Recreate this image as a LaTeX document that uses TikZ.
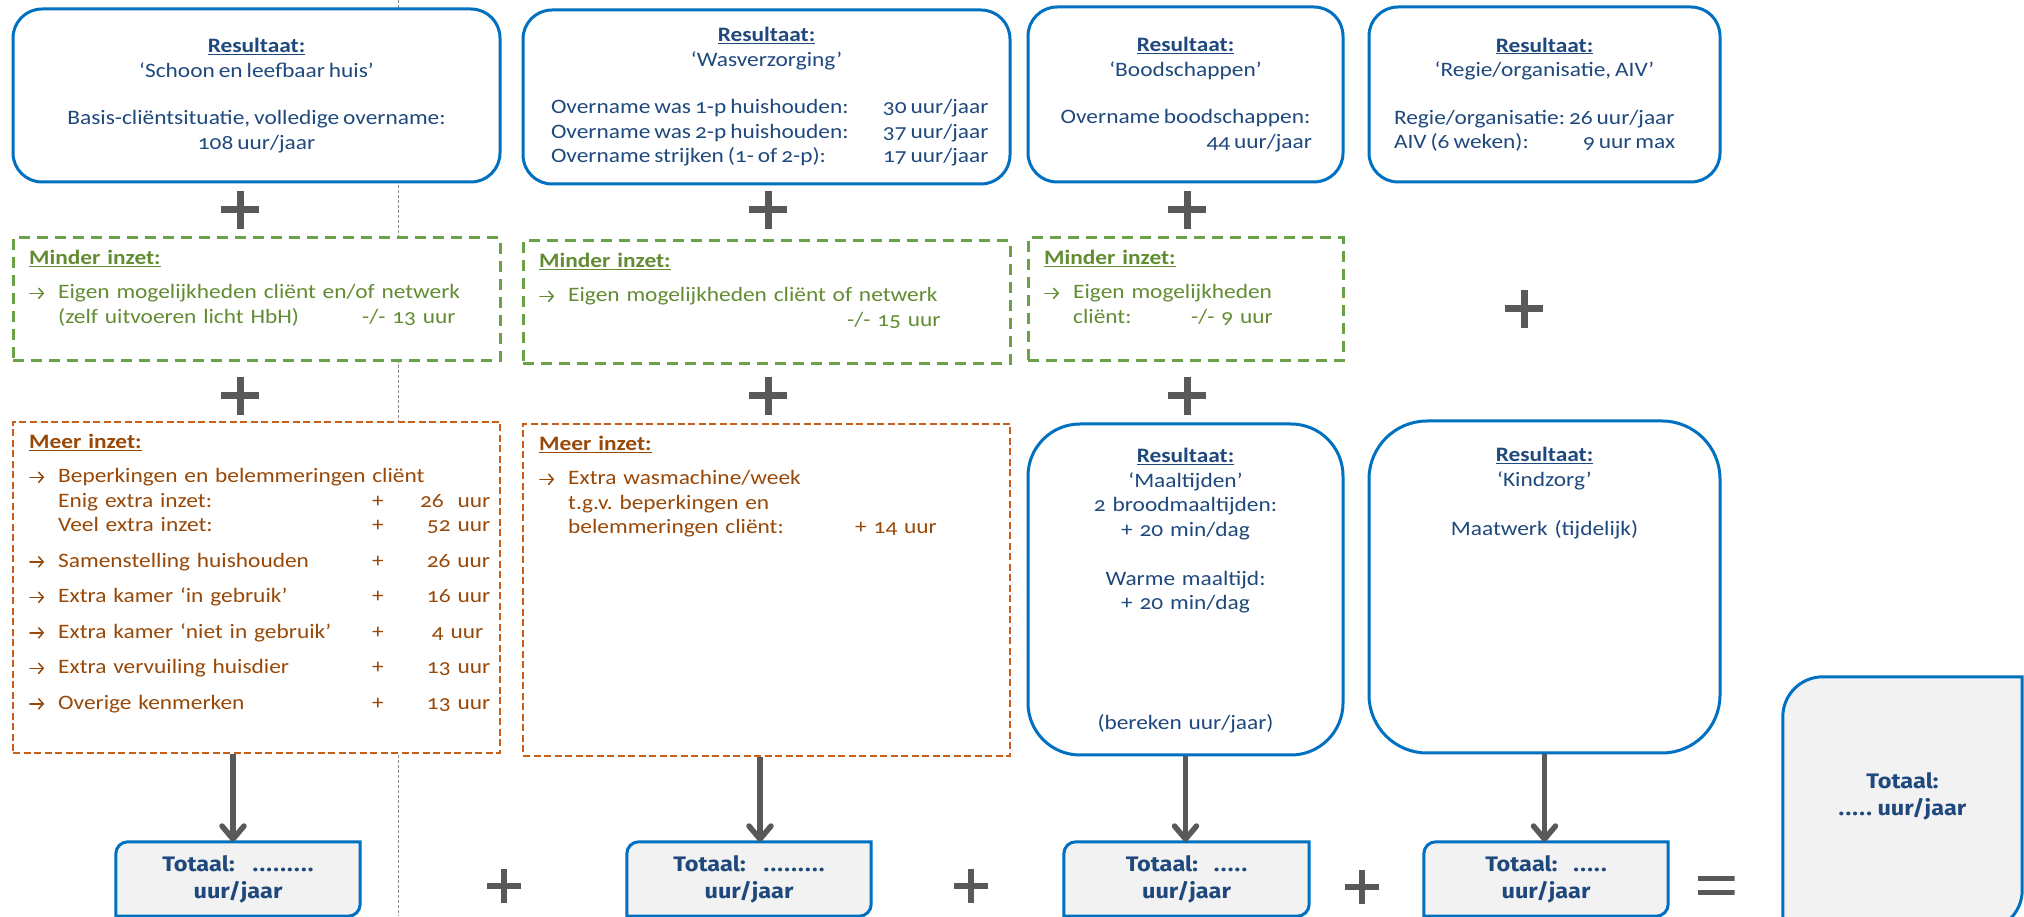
\documentclass[tikz,border=0pt]{standalone}
\usepackage{fontspec}
\setmainfont{Carlito}[Numbers=OldStyle, FakeStretch=1.14, WordSpace=0.75]
\newfontfamily\totfont{Fira Sans}[FakeStretch=1.12]
\usetikzlibrary{arrows.meta,backgrounds}
\definecolor{rblue}{RGB}{0,112,192}
\definecolor{navy}{RGB}{31,73,125}
\definecolor{mgreen}{RGB}{106,160,70}
\definecolor{mgreentxt}{RGB}{98,140,50}
\definecolor{morange}{RGB}{200,95,25}
\definecolor{morangetxt}{RGB}{152,72,7}
\definecolor{pgray}{RGB}{89,89,89}
\definecolor{totfill}{RGB}{242,242,242}
\definecolor{sepgray}{RGB}{140,140,140}
\frenchspacing
\newcommand\btxt{\fontsize{20.5}{24.5}\selectfont}
\newcommand\arwg{\tikz[baseline=0pt, x=1pt, y=1pt]\draw[line width=1.5pt, line cap=round, -{Straight Barb[length=4.5pt,width=10pt,round]}] (1,5.7) -- (15,5.7);}
\newcommand\arw{\makebox[29pt][l]{\arwg}}
\newcommand\indt{\hspace*{29pt}}
\newcommand\hdr[1]{\textbf{\underline{#1}}}
\newcommand\wrow[2]{\makebox[431pt][l]{\makebox[332pt][l]{#1}#2}}
\newcommand\orow[3]{\makebox[29pt][l]{#1}\makebox[314pt][l]{#2}\makebox[13pt][l]{+}\makebox[105pt][r]{#3}}
\newcommand\tdots[1]{{\addfontfeatures{LetterSpace=6}#1}}
\begin{document}
\begin{tikzpicture}[x=1pt,y=1pt,
  rbox/.style={draw=rblue, line width=3pt, fill=white, rounded corners=#1, inner sep=0pt, align=center, text=navy, font=\btxt},
  rbox/.default=29pt,
  gbox/.style={draw=mgreen, line width=3pt, fill=white, dash pattern=on 11pt off 7pt, inner sep=0pt},
  obox/.style={draw=morange, line width=2.5pt, fill=white, dash pattern=on 7pt off 3.5pt, inner sep=0pt},
  gtxt/.style={anchor=base west, text width=#1, align=left, inner sep=0pt, text=mgreentxt, font=\btxt},
  otxt/.style={anchor=base west, text width=#1, align=left, inner sep=0pt, text=morangetxt, font=\btxt},
  ctxt/.style={anchor=base, text width=#1, align=center, inner sep=0pt, text=navy, font=\btxt},
  totnode/.style={inner sep=0pt, align=center, text=navy, font=\totfont\bfseries\fontsize{21}{27}\selectfont},
  totline/.style={draw=rblue, line width=3pt, fill=totfill},
  plusw/.store in=\pluswidth, plusw=7pt,
  plussign/.style={minimum size=#1, inner sep=0pt, path picture={\draw[pgray, line width=\pluswidth] (path picture bounding box.north) -- (path picture bounding box.south) (path picture bounding box.west) -- (path picture bounding box.east);}},
  plussign/.default=38pt,
  eqsign/.style={minimum width=37pt, minimum height=19pt, inner sep=0pt, path picture={\draw[pgray, line width=5pt] ([yshift=-2.5pt]path picture bounding box.north west) -- ([yshift=-2.5pt]path picture bounding box.north east) ([yshift=2.5pt]path picture bounding box.south west) -- ([yshift=2.5pt]path picture bounding box.south east);}},
  arr/.style={pgray, line width=5.5pt, -{Straight Barb[length=13pt,width=22pt,round]}},
  sepline/.style={sepgray, line width=1pt, dash pattern=on 3pt off 2pt}
]
\useasboundingbox (0,0) rectangle (2024,916);
\clip (0,0) rectangle (2024,916);
\draw[sepline] (398,916) -- (398,0);

% result boxes, top row
\node[rbox, minimum width=487pt, minimum height=173pt] (r1) at (256.5,820.5)
  {\hdr{Resultaat:}\\‘Schoon en leefbaar huis’\\[23pt]Basis-cliëntsituatie, volledige overname:\\108 uur/jaar};
\node[rbox, minimum width=487pt, minimum height=174pt] (r2) at (766.5,819)
  {\hdr{Resultaat:}\\‘Wasverzorging’\\[23pt]\wrow{Overname was 1-p huishouden:}{30 uur/jaar}\\\wrow{Overname was 2-p huishouden:}{37 uur/jaar}\\\wrow{Overname strijken (1- of 2-p):}{17 uur/jaar}};
\node[rbox, minimum width=315pt, minimum height=175pt] (r3) at (1185.5,821.5)
  {\hdr{Resultaat:}\\‘Boodschappen’\\[23pt]Overname boodschappen:\\\makebox[253pt][r]{44 uur/jaar}};
\node[rbox, minimum width=351pt, minimum height=175pt] (r4) at (1544.5,821.5)
  {\hdr{Resultaat:}\\‘Regie/organisatie, AIV’\\[23pt]\makebox[301pt][l]{Regie/organisatie: 26 uur/jaar}\\\makebox[301pt][l]{\makebox[189pt][l]{AIV (6 weken):}9 uur max}};

% minder inzet boxes
\node[gbox, minimum width=487pt, minimum height=123pt] (g1) at (256.5,616.5) {};
\node[gbox, minimum width=487pt, minimum height=123pt] (g2) at (766.5,613.5) {};
\node[gbox, minimum width=315pt, minimum height=123pt] (g3) at (1185.5,616.5) {};
\node[gtxt=465pt] (g1t) at (29,651)
  {\hdr{Minder inzet:}\\[9.5pt]\arw Eigen mogelijkheden cliënt en/of netwerk\\\indt\makebox[304pt][l]{(zelf uitvoeren licht HbH)}-/- 13 uur};
\node[gtxt=465pt] (g2t) at (539,648)
  {\hdr{Minder inzet:}\\[9.5pt]\arw Eigen mogelijkheden cliënt of netwerk\\\hspace*{308pt}-/- 15 uur};
\node[gtxt=290pt] (g3t) at (1044,651)
  {\hdr{Minder inzet:}\\[9.5pt]\arw Eigen mogelijkheden\\\indt\makebox[118pt][l]{cliënt:}-/- 9 uur};

% meer inzet boxes
\node[obox, minimum width=487pt, minimum height=331pt] (o1) at (256.5,328.5) {};
\node[obox, minimum width=487pt, minimum height=332pt] (o2) at (766.5,326) {};
\node[otxt=470pt] (o1t) at (29,467)
  {\hdr{Meer inzet:}\\[9.5pt]\arw Beperkingen en belemmeringen cliënt\\
   \orow{}{Enig extra inzet:}{26\ \ uur}\\
   \orow{}{Veel extra inzet:}{52 uur}\\[11pt]
   \orow{\arwg}{Samenstelling huishouden}{26 uur}\\[11pt]
   \orow{\arwg}{Extra kamer ‘in gebruik’}{16 uur}\\[11pt]
   \orow{\arwg}{Extra kamer ‘niet in gebruik’}{4 uur\hspace*{7pt}}\\[11pt]
   \orow{\arwg}{Extra vervuiling huisdier}{13 uur}\\[11pt]
   \orow{\arwg}{Overige kenmerken}{13 uur}};
\node[otxt=465pt] (o2t) at (539,465)
  {\hdr{Meer inzet:}\\[9.5pt]\arw Extra wasmachine/week\\\indt t.g.v. beperkingen en\\\indt\makebox[287pt][l]{belemmeringen cliënt:}+ 14 uur};

% maaltijden / kindzorg
\node[rbox=52pt, minimum width=315pt, minimum height=331pt] (m) at (1185.5,326.5) {};
\node[rbox=58pt, minimum width=351pt, minimum height=332pt] (k) at (1544.5,329) {};
\node[ctxt=300pt] (mt) at (1185.5,453)
  {\hdr{Resultaat:}\\‘Maaltijden’\\2 broodmaaltijden:\\+ 20 min/dag\\[24.5pt]Warme maaltijd:\\+ 20 min/dag\\[95.5pt](bereken uur/jaar)};
\node[ctxt=330pt] (kt) at (1544.5,454)
  {\hdr{Resultaat:}\\‘Kindzorg’\\[24.5pt]Maatwerk (tijdelijk)};

% plus signs
\node[plussign] (p1) at (240,706) {};
\node[plussign] (p2) at (768,706) {};
\node[plussign] (p3) at (1187,706) {};
\node[plussign] (p4) at (240,520) {};
\node[plussign] (p5) at (768,520) {};
\node[plussign] (p6) at (1187,520) {};
\node[plussign] (p7) at (1524,607) {};
\node[plussign=34pt, plusw=6pt] (p8) at (504,30) {};
\node[plussign=34pt, plusw=6pt] (p9) at (971,30) {};
\node[plussign=34pt, plusw=6pt] (p10) at (1362,29) {};
\node[eqsign] (eq) at (1716,31) {};

% totals
\node[totnode, minimum width=244pt, minimum height=74pt] (tot1) at (238,37) {Totaal:\hspace{18pt}\tdots{.........}\\uur/jaar};
\node[totnode, minimum width=244pt, minimum height=74pt] (tot2) at (749,37) {Totaal:\hspace{18pt}\tdots{.........}\\uur/jaar};
\node[totnode, minimum width=245pt, minimum height=74pt] (tot3) at (1186.5,37) {Totaal:\hspace{16pt}\tdots{.....}\\uur/jaar};
\node[totnode, minimum width=244pt, minimum height=74pt] (tot4) at (1546,37) {Totaal:\hspace{16pt}\tdots{.....}\\uur/jaar};
\node[totnode, minimum width=239pt, minimum height=239pt] (fin) at (1902.5,119.5) {Totaal:\\\tdots{.....} uur/jaar};
\begin{scope}[on background layer]
  \foreach \n in {tot1,tot2,tot3,tot4}{
    \filldraw[totline] (\n.south west) -- ([yshift=-12pt]\n.north west) arc[start angle=180,end angle=90,radius=12pt] -- (\n.north east) -- ([yshift=12pt]\n.south east) arc[start angle=0,end angle=-90,radius=12pt] -- cycle;}
  \filldraw[totline] ([yshift=-14pt]fin.south west) -- ([yshift=-40pt]fin.north west) arc[start angle=180,end angle=90,radius=40pt] -- (fin.north east) -- ([yshift=26pt]fin.south east) arc[start angle=0,end angle=-90,radius=40pt] -- cycle;
\end{scope}

% arrows
\draw[arr] ([xshift=-23.5pt]o1.south) -- ([xshift=-23.5pt]o1.south |- tot1.north);
\draw[arr] ([xshift=-6.5pt]o2.south) -- ([xshift=-6.5pt]o2.south |- tot2.north);
\draw[arr] (m.south) -- (m.south |- tot3.north);
\draw[arr] (k.south) -- (k.south |- tot4.north);
\end{tikzpicture}
\end{document}
